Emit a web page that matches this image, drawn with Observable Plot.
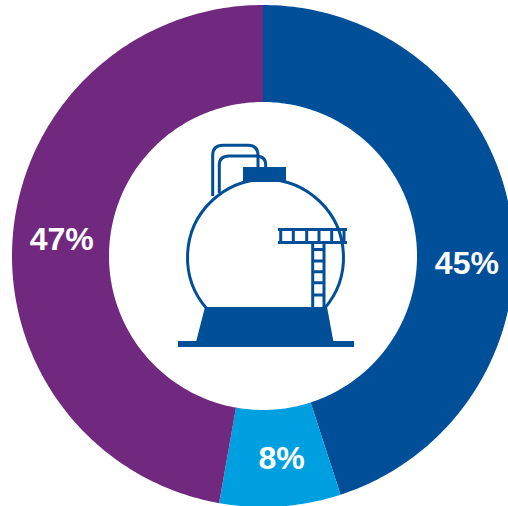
<!DOCTYPE html>
<html>
<head>
<meta charset="utf-8">
<script src="https://cdn.jsdelivr.net/npm/d3@7"></script>
<script src="https://cdn.jsdelivr.net/npm/@observablehq/plot@0.6"></script>
<style>
html,body{margin:0;padding:0;background:#fff;overflow:hidden}
svg{display:block}
</style>
</head>
<body>
<div id="chart"></div>
<script>
const categories = ["Blue", "Light blue", "Purple"];
const shares = [45, 7.8, 47.2];
const colors = ["#004f98", "#009fdf", "#70297f"];
const labelAngles = [92, 175, 275];

const W = 508, H = 506, R = 251, CX = 263, CY = 256;
const inner = 154 / R, labelRadius = 203 / R;
const toXY = (deg, r) => [r * Math.sin(deg * Math.PI / 180), r * Math.cos(deg * Math.PI / 180)];

let start = 0;
const ring = [];
const total = d3.sum(shares);
categories.forEach((c, i) => {
  const a0 = start / total * 360, a1 = (start + shares[i]) / total * 360;
  const n = Math.max(2, Math.ceil(a1 - a0));
  for (let k = 0; k <= n; ++k) {
    const a = a0 + (a1 - a0) * k / n;
    const [ox, oy] = toXY(a, 1), [ix, iy] = toXY(a, inner);
    ring.push({category: c, ox, oy, ix, iy});
  }
  start += shares[i];
});
const labels = categories.map((c, i) => {
  const [x, y] = toXY(labelAngles[i], labelRadius);
  return {x, y, text: Math.round(shares[i]) + "%"};
});

// Decorative storage-tank pictogram, in pixels
function tankIcon() {
  const ink = "#004f98";
  const g = d3.create("svg:g").attr("fill", "none").attr("stroke", ink).attr("stroke-width", 3);
  g.append("path").attr("d", "M207 309A78 78 0 1 1 324 309");
  g.append("path").attr("d", "M212.7 196V155.5Q212.7 145.3 223 145.3H248Q258 145.3 258 155.5V168");
  g.append("path").attr("d", "M219.3 193V165Q219.3 156 229 156H256Q265.7 156 265.7 165V168");
  g.append("path").attr("d", "M278 229.5H347M278 242.5H347M280.7 229.5V242.5M293.3 229.5V242.5M306.7 229.5V242.5M319 229.5V242.5M331.7 229.5V242.5M344 229.5V242.5");
  g.append("path").attr("d", "M312.7 242.5V308M324 242.5V308M312.7 249.5H324M312.7 261H324M312.7 271.7H324M312.7 282.7H324M312.7 295H324");
  const f = g.append("g").attr("stroke", "none").attr("fill", ink);
  f.append("path").attr("d", "M243 167H286V182H243Z");
  f.append("path").attr("d", "M205 307H327L333.5 342H196Z");
  f.append("path").attr("d", "M178 341H354V347H178Z");
  return g.node();
}

const chart = Plot.plot({
  width: W, height: H,
  margin: 0,
  style: {background: "#fff"},
  x: {domain: [-CX / R, (W - CX) / R], range: [0, W], axis: null},
  y: {domain: [-(H - CY) / R, CY / R], range: [H, 0], axis: null},
  color: {domain: categories, range: colors},
  marks: [
    Plot.area(ring, {x1: "ox", y1: "oy", x2: "ix", y2: "iy", z: "category", fill: "category"}),
    Plot.text(labels, {
      x: "x", y: "y", text: "text", fill: "#fff", dx: 0.5, dy: 0.5,
      fontFamily: "Liberation Sans, Arial, sans-serif",
      fontWeight: "bold", fontSize: 32
    }),
    tankIcon
  ]
});
document.getElementById("chart").appendChild(chart);
</script>
</body>
</html>
